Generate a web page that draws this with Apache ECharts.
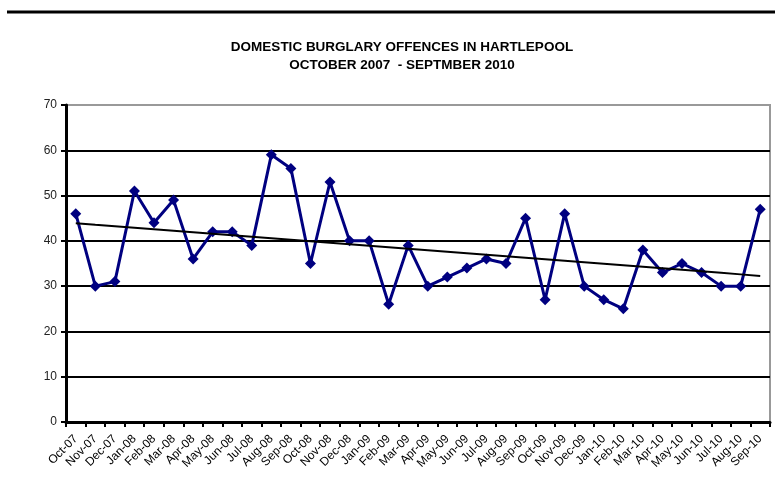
<!DOCTYPE html>
<html>
<head>
<meta charset="utf-8">
<script src="https://cdn.jsdelivr.net/npm/echarts@6/dist/echarts.min.js"></script>
<style>
  html, body { margin: 0; padding: 0; background: #fff; }
  #chart { width: 775px; height: 482px; }
</style>
</head>
<body>
<div id="chart"></div>
<script>
// Monthly domestic burglary offences, Hartlepool
const months = [
  'Oct-07','Nov-07','Dec-07','Jan-08','Feb-08','Mar-08','Apr-08','May-08','Jun-08','Jul-08','Aug-08','Sep-08',
  'Oct-08','Nov-08','Dec-08','Jan-09','Feb-09','Mar-09','Apr-09','May-09','Jun-09','Jul-09','Aug-09','Sep-09',
  'Oct-09','Nov-09','Dec-09','Jan-10','Feb-10','Mar-10','Apr-10','May-10','Jun-10','Jul-10','Aug-10','Sep-10'
];
const offences = [
  46, 30, 31, 51, 44, 49, 36, 42, 42, 39, 59, 56,
  35, 53, 40, 40, 26, 39, 30, 32, 34, 36, 35, 45,
  27, 46, 30, 27, 25, 38, 33, 35, 33, 30, 30, 47
];
const yTicks = [0, 10, 20, 30, 40, 50, 60, 70];

// Least-squares linear trend through the monthly counts
function linearTrend(values) {
  const n = values.length;
  let sx = 0, sy = 0, sxx = 0, sxy = 0;
  values.forEach((v, i) => { sx += i; sy += v; sxx += i * i; sxy += i * v; });
  const slope = (n * sxy - sx * sy) / (n * sxx - sx * sx);
  const intercept = (sy - slope * sx) / n;
  return values.map((_, i) => +(intercept + slope * i).toFixed(3));
}
const trend = linearTrend(offences);

// gridlines are black except the top one, which sits on the grey plot border
const gridColors = yTicks.map(v => v === 70 ? '#999' : '#000');

const chart = echarts.init(document.getElementById('chart'), null, { renderer: 'canvas' });
chart.setOption({
  animation: false,
  backgroundColor: '#ffffff',
  graphic: [{
    type: 'line',
    shape: { x1: 7, y1: 12, x2: 775, y2: 12 },
    style: { stroke: '#000', lineWidth: 3 }
  }],
  title: {
    text: 'DOMESTIC BURGLARY OFFENCES IN HARTLEPOOL\nOCTOBER 2007  - SEPTMBER 2010',
    left: 397,
    top: 33,
    textAlign: 'center',
    textStyle: {
      fontFamily: '"Liberation Sans Narrow", "Arial Narrow", Arial, sans-serif',
      fontSize: 13.5,
      fontWeight: 'bold',
      color: '#000',
      lineHeight: 18
    }
  },
  grid: {
    left: 66, right: 5, top: 105, bottom: 60,
    show: true,
    borderColor: '#999',
    borderWidth: 2
  },
  xAxis: {
    type: 'category',
    data: months,
    boundaryGap: true,
    axisLine: { lineStyle: { color: '#000', width: 3 } },
    axisTick: { show: true, length: 5, lineStyle: { color: '#000', width: 2 } },
    axisLabel: {
      interval: 0,
      rotate: 45,
      margin: 15,
      fontFamily: 'Arial, "Liberation Sans", sans-serif',
      fontSize: 12,
      color: '#000'
    }
  },
  yAxis: {
    type: 'value',
    min: 0, max: 70, interval: 10,
    axisLine: { show: true, lineStyle: { color: '#000', width: 3 } },
    axisTick: { show: true, length: 5, lineStyle: { color: '#000', width: 2 } },
    axisLabel: {
      margin: 9,
      fontFamily: 'Arial, "Liberation Sans", sans-serif',
      fontSize: 12,
      color: '#222',
      formatter: v => yTicks.includes(v) ? String(v) : ''
    },
    splitLine: { show: true, lineStyle: { color: gridColors, width: 2 } }
  },
  series: [
    {
      name: 'Offences',
      type: 'line',
      data: offences,
      symbol: 'diamond',
      symbolSize: 11,
      lineStyle: { color: '#000080', width: 3 },
      itemStyle: { color: '#000080' },
      z: 3
    },
    {
      name: 'Trend',
      type: 'line',
      data: trend,
      symbol: 'none',
      lineStyle: { color: '#000', width: 2 },
      z: 4
    }
  ]
});
</script>
</body>
</html>
